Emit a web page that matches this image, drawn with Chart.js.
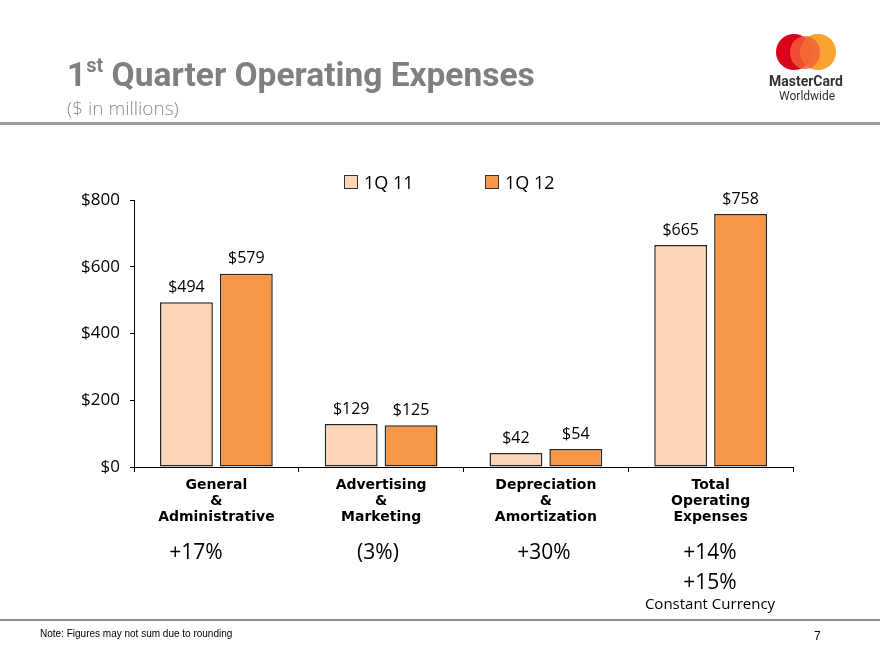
<!DOCTYPE html>
<html>
<head>
<meta charset="utf-8">
<script src="https://cdn.jsdelivr.net/npm/chart.js@4.4.1/dist/chart.umd.min.js"></script>
<style>
  html, body { margin: 0; padding: 0; background: #fff; }
  #page { position: relative; width: 880px; height: 660px; overflow: hidden; font-family: "Open Sans", sans-serif; }
  #chartWrap { position: absolute; left: 0; top: 0; width: 880px; height: 660px; }
  .abs { position: absolute; white-space: nowrap; }
  #title { left: 67px; top: 55px; font-family: Roboto, sans-serif; font-weight: bold; font-size: 33.5px; color: #7f7f7f; }
  #title sup { font-size: 20px; position: relative; top: -2px; }
  #subtitle { left: 67px; top: 95px; font-size: 19px; color: #8a8a8a; font-weight: 300; }
  #headRule { left: 0; top: 122px; width: 880px; height: 3px; background: #9a9a9a; }
  #footRule { left: 0; top: 619px; width: 880px; height: 2px; background: #8c8c8c; }
  #note { left: 40px; top: 628px; font-family: "Liberation Sans", Arial, sans-serif; font-size: 10px; color: #000; }
  #pageNo { left: 814px; top: 629px; font-family: "Liberation Sans", Arial, sans-serif; font-size: 12px; color: #000; }
  .legBox { width: 12px; height: 12px; border: 1px solid #333; }
  .legTxt { font-size: 18px; color: #000; line-height: 1; }
  .pct { font-size: 21px; color: #000; transform: translateX(-50%); line-height: 1; }
  #logo1 { left: 776px; top: 34px; width: 36px; height: 36px; border-radius: 50%; background: #d9001b; }
  #logo2 { left: 800px; top: 34px; width: 36px; height: 36px; border-radius: 50%; background: #f79a1e; opacity: 0.92; }
  #logo3 { left: 790px; top: 36px; width: 30px; height: 33px; border-radius: 50%; background: #f2603a; opacity: 0.8; }
  #logoTxt { left: 769px; top: 73px; font-family: Roboto, sans-serif; font-weight: bold; font-size: 14px; color: #333; }
  #logoTxt2 { left: 779px; top: 89px; font-family: Roboto, sans-serif; font-size: 12px; color: #333; }
</style>
</head>
<body>
<div id="page">
  <div id="chartWrap"><canvas id="chart" width="880" height="660"></canvas></div>

  <div class="abs" id="title">1<sup>st</sup> Quarter Operating Expenses</div>
  <div class="abs" id="subtitle">($ in millions)</div>
  <div class="abs" id="headRule"></div>

  <div class="abs" id="logo1"></div>
  <div class="abs" id="logo2"></div>
  <div class="abs" id="logo3"></div>
  <div class="abs" id="logoTxt">MasterCard</div>
  <div class="abs" id="logoTxt2">Worldwide</div>

  <div class="abs legBox" id="leg1" style="left:344px; top:175px;"></div>
  <div class="abs legTxt" style="left:364px; top:173px;" id="legTxt1"></div>
  <div class="abs legBox" id="leg2" style="left:485px; top:175px;"></div>
  <div class="abs legTxt" style="left:505px; top:173px;" id="legTxt2"></div>

  <div class="abs pct" id="pct0" style="left:196px; top:541px;"></div>
  <div class="abs pct" id="pct1" style="left:378px; top:541px;"></div>
  <div class="abs pct" id="pct2" style="left:544px; top:541px;"></div>
  <div class="abs pct" id="pct3" style="left:710px; top:541px;"></div>
  <div class="abs pct" style="left:710px; top:571px;">+15%</div>
  <div class="abs" style="left:710px; top:593px; transform:translateX(-50%); font-size:15px; color:#000;">Constant Currency</div>

  <div class="abs" id="footRule"></div>
  <div class="abs" id="note">Note: Figures may not sum due to rounding</div>
  <div class="abs" id="pageNo">7</div>
</div>

<script>
// ─── DATA ────────────────────────────────────────────────────────────────
const categories = [
  ["General", "&", "Administrative"],
  ["Advertising", "&", "Marketing"],
  ["Depreciation", "&", "Amortization"],
  ["Total", "Operating", "Expenses"]
];
const seriesNames = ["1Q 11", "1Q 12"];
const values1Q11 = [494, 129, 42, 665];
const values1Q12 = [579, 125, 54, 758];
const changes = ["+17%", "(3%)", "+30%", "+14%"];
const yTicks = [0, 200, 400, 600, 800];

const COLORS = ["#fcd5b5", "#f79646"];

// legend + change labels (html)
document.getElementById("leg1").style.background = COLORS[0];
document.getElementById("leg2").style.background = COLORS[1];
document.getElementById("legTxt1").textContent = seriesNames[0];
document.getElementById("legTxt2").textContent = seriesNames[1];
changes.forEach((t, i) => { document.getElementById("pct" + i).textContent = t; });

// ─── DATA LABELS ─────────────────────────────────────────────────────────
const valueLabels = {
  id: "valueLabels",
  afterDatasetsDraw(chart) {
    const ctx = chart.ctx;
    ctx.save();
    ctx.fillStyle = "#000";
    ctx.font = "16px 'Open Sans', sans-serif";
    ctx.textAlign = "center";
    ctx.textBaseline = "middle";
    chart.data.datasets.forEach((ds, i) => {
      chart.getDatasetMeta(i).data.forEach((bar, j) => {
        ctx.fillText("$" + ds.data[j], bar.x, bar.y - 15);
      });
    });
    ctx.restore();
  }
};

// ─── CHART ───────────────────────────────────────────────────────────────
new Chart(document.getElementById("chart"), {
  type: "bar",
  data: {
    labels: categories,
    datasets: [
      { label: seriesNames[0], data: values1Q11, backgroundColor: COLORS[0] },
      { label: seriesNames[1], data: values1Q12, backgroundColor: COLORS[1] }
    ].map(d => Object.assign(d, {
      borderColor: "#262626",
      borderWidth: 1.5,
      borderSkipped: false,
      categoryPercentage: 0.727,
      barPercentage: 0.883
    }))
  },
  options: {
    responsive: false,
    animation: false,
    layout: { padding: { left: 0, top: 200, right: 87, bottom: 0 } },
    plugins: { legend: { display: false }, tooltip: { enabled: false } },
    scales: {
      x: {
        offset: true,
        grid: { offset: true, drawOnChartArea: false, color: "#000", tickLength: 5, lineWidth: 1 },
        border: { color: "#000", width: 1 },
        ticks: {
          color: "#000",
          padding: 5,
          font: { family: "'DejaVu Sans', sans-serif", weight: "bold", size: 14, lineHeight: 1.15 }
        },
        afterFit: s => { s.height = 193; }
      },
      y: {
        min: 0,
        max: 800,
        afterBuildTicks: s => { s.ticks = yTicks.map(v => ({ value: v })); },
        grid: { drawOnChartArea: false, color: "#000", tickLength: 4 },
        border: { color: "#000", width: 1 },
        ticks: {
          color: "#000",
          padding: 10,
          font: { family: "'Open Sans', sans-serif", size: 17 },
          callback: v => "$" + v
        },
        afterFit: s => { s.width = 134; }
      }
    }
  },
  plugins: [valueLabels]
});
</script>
</body>
</html>
